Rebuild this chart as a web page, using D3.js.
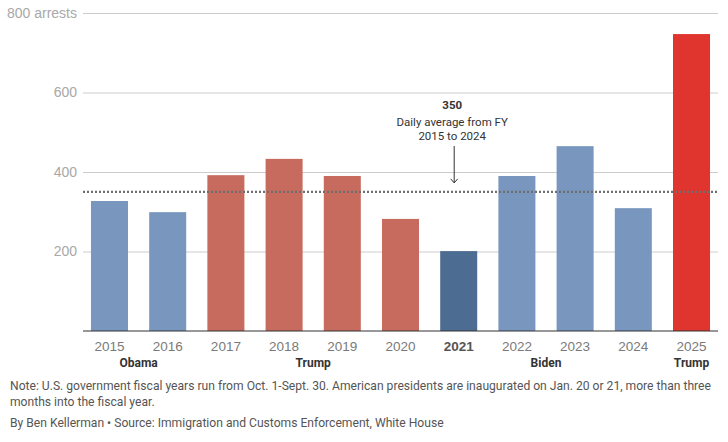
<!DOCTYPE html>
<html>
<head>
<meta charset="utf-8">
<script src="https://cdn.jsdelivr.net/npm/d3@7"></script>
<style>
  html, body { margin: 0; padding: 0; background: #fff; }
  svg { display: block; font-family: Roboto, "Noto Sans", sans-serif; }
</style>
</head>
<body>
<svg id="chart" width="728" height="442"></svg>
<script>
// ---- data ----
const years = ["2015","2016","2017","2018","2019","2020","2021","2022","2023","2024","2025"];
const arrests = [327, 299, 392, 433, 390, 282, 201, 390, 465, 309, 747];
const presidentOf = ["Obama","Obama","Trump","Trump","Trump","Trump","Biden","Biden","Biden","Biden","Trump"];
const termNames = ["Obama","Trump","Biden","Trump"];
const termStart = ["2015","2017","2021","2025"];
const termEnd   = ["2016","2020","2024","2025"];
const yTicks = [200, 400, 600, 800];
const averageValue = 350;
const averageLabel = ["350", "Daily average from FY", "2015 to 2024"];
const highlightYear = "2021";
const currentYear = "2025";
const noteLines = [
  "Note: U.S. government fiscal years run from Oct. 1-Sept. 30. American presidents are inaugurated on Jan. 20 or 21, more than three",
  "months into the fiscal year."
];
const byline = "By Ben Kellerman \u2022 Source: Immigration and Customs Enforcement, White House";

// ---- layout ----
const svg = d3.select("#chart");
const plotLeft = 83, plotRight = 718, plotTop = 13, plotBottom = 331;

const x = d3.scaleBand().domain(years).range([plotLeft, plotRight]).paddingInner(0.364).paddingOuter(0.137);
const y = d3.scaleLinear().domain([0, 800]).range([plotBottom, plotTop]);

const colorOf = (yr, pres) => {
  if (yr === currentYear) return "#e0342f";
  if (yr === highlightYear) return "#4c6c91";
  return pres === "Trump" ? "#c66b5e" : "#7997be";
};

// gridlines + y labels
const yAxis = svg.append("g").attr("class", "y-axis")
  .attr("transform", `translate(${plotLeft},0)`)
  .call(d3.axisLeft(y).tickValues(yTicks).tickSize(0).tickPadding(6)
    .tickFormat(d => d === 800 ? "800 arrests" : d));
yAxis.select(".domain").remove();
yAxis.selectAll("text").attr("fill", "#a8a8a8").attr("font-size", 14);
yAxis.selectAll(".tick").append("line")
  .attr("x1", 0).attr("x2", plotRight - plotLeft)
  .attr("stroke", "#cccccc").attr("stroke-width", 1);

// bars
svg.append("g").selectAll("rect")
  .data(years.map((yr, i) => ({ yr, v: arrests[i], p: presidentOf[i] })))
  .join("rect")
  .attr("x", d => x(d.yr))
  .attr("y", d => y(d.v))
  .attr("width", x.bandwidth())
  .attr("height", d => y(0) - y(d.v))
  .attr("fill", d => colorOf(d.yr, d.p));

// average dotted line
svg.append("line")
  .attr("x1", plotLeft).attr("x2", plotRight)
  .attr("y1", y(averageValue)).attr("y2", y(averageValue))
  .attr("stroke", "#6e6e6e").attr("stroke-width", 2.2)
  .attr("stroke-dasharray", "2,2");

// baseline
svg.append("line")
  .attr("x1", plotLeft).attr("x2", plotRight)
  .attr("y1", y(0)).attr("y2", y(0))
  .attr("stroke", "#333").attr("stroke-width", 1.2);

// x axis labels
const xAxis = svg.append("g")
  .attr("transform", `translate(0,${y(0)})`)
  .call(d3.axisBottom(x).tickSize(0).tickPadding(10));
xAxis.select(".domain").remove();
xAxis.selectAll("text")
  .attr("font-size", 13.5)
  .attr("fill", d => d === highlightYear ? "#555" : "#7a7a7a")
  .attr("font-weight", d => d === highlightYear ? "bold" : "normal");

// president labels
svg.append("g").selectAll("text")
  .data(termNames.map((n, i) => ({ n, s: termStart[i], e: termEnd[i] })))
  .join("text")
  .attr("x", d => (x(d.s) + x(d.e) + x.bandwidth()) / 2)
  .attr("y", 367)
  .attr("text-anchor", "middle")
  .attr("font-size", 12)
  .attr("font-weight", "bold")
  .attr("fill", "#333")
  .text(d => d.n);

// annotation
const annX = x(highlightYear) + 12;
const ann = svg.append("g");
ann.append("text").attr("x", annX).attr("y", 109).attr("text-anchor", "middle")
  .attr("font-size", 11.5).attr("font-weight", "bold").attr("fill", "#333").text(averageLabel[0]);
ann.append("text").attr("x", annX).attr("y", 126).attr("text-anchor", "middle")
  .attr("font-size", 11.5).attr("fill", "#333").text(averageLabel[1]);
ann.append("text").attr("x", annX).attr("y", 139.5).attr("text-anchor", "middle")
  .attr("font-size", 11.5).attr("fill", "#333").text(averageLabel[2]);
const arrowX = annX + 2;
const arrowEnd = y(averageValue) - 9;
ann.append("line").attr("x1", arrowX).attr("x2", arrowX).attr("y1", 146).attr("y2", arrowEnd)
  .attr("stroke", "#333").attr("stroke-width", 1);
ann.append("path")
  .attr("d", `M${arrowX - 3.5},${arrowEnd - 4} L${arrowX},${arrowEnd} L${arrowX + 3.5},${arrowEnd - 4}`)
  .attr("fill", "none").attr("stroke", "#333").attr("stroke-width", 1);

// footnotes
const foot = svg.append("g").attr("fill", "#555").attr("font-size", 12);
const n1 = foot.append("text").attr("x", 10).attr("y", 390).text(noteLines[0]);
foot.append("text").attr("x", 10).attr("y", 406).text(noteLines[1]);
foot.append("text").attr("x", 10).attr("y", 426.5).text(byline);
// fit note width to reference
const w = n1.node().getComputedTextLength();
const fs = 12 * 702 / w;
foot.attr("font-size", Math.min(13, fs));
</script>
</body>
</html>
